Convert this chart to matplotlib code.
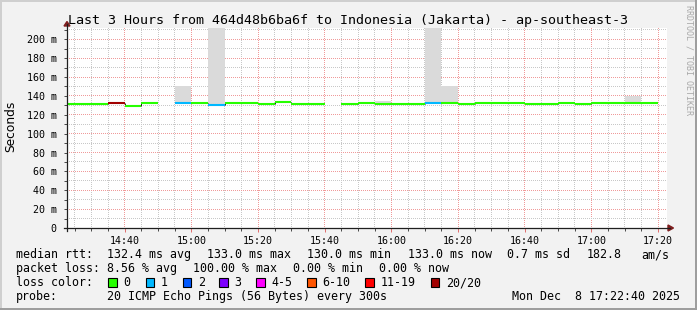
import numpy as np
import matplotlib
matplotlib.use("Agg")
import matplotlib.pyplot as plt
from matplotlib.colors import to_rgba
from matplotlib.patches import Rectangle, Polygon
from matplotlib.lines import Line2D

# ---- data (5 minute bins, start time of each bin) ----
bin_start = ["14:20", "14:25", "14:30", "14:35", "14:40", "14:45", "14:50", "14:55",
             "15:00", "15:05", "15:10", "15:15", "15:20", "15:25", "15:30", "15:35",
             "15:40", "15:45", "15:50", "15:55", "16:00", "16:05", "16:10", "16:15",
             "16:20", "16:25", "16:30", "16:35", "16:40", "16:45", "16:50", "16:55",
             "17:00", "17:05", "17:10", "17:15"]
median_ms = [131.5, 131.5, 131.5, 132.0, 129.3, 133.0, None, 133.0,
             133.0, 130.7, 133.0, 133.0, 131.7, 133.2, 131.8, 131.8,
             None, 131.4, 132.8, 131.0, 131.8, 131.8, 132.8, 133.0,
             131.8, 133.0, 133.0, 133.0, 131.8, 131.8, 133.0, 131.8,
             133.0, 133.0, 133.0, 133.0]
loss_class = ["0", "0", "0", "20/20", "0", "0", None, "1",
              "0", "1", "0", "0", "0", "0", "0", "0",
              None, "0", "0", "0", "0", "0", "1", "0",
              "0", "0", "0", "0", "0", "0", "0", "0",
              "0", "0", "0", "0"]
# top of the smoke (max ping) where it shows above the median line
smoke_max = [None, None, None, None, None, None, None, 150.5,
             None, 250.0, None, None, None, None, None, None,
             None, None, None, 135.0, None, None, 250.0, 150.5,
             None, None, None, None, None, None, None, None,
             None, None, 139.6, None]

loss_labels = ["0", "1", "2", "3", "4-5", "6-10", "11-19", "20/20"]
loss_colors = ["#26ff00", "#00b8ff", "#0059ff", "#7e00ff", "#ff00ff", "#ff5500", "#ff0000", "#a10000"]
loss_color_map = dict(zip(loss_labels, loss_colors))

x_tick_labels = ["14:40", "15:00", "15:20", "15:40", "16:00", "16:20", "16:40", "17:00", "17:20"]
y_ticks = [0, 20, 40, 60, 80, 100, 120, 140, 160, 180, 200]

title = "Last 3 Hours from 464d48b6ba6f to Indonesia (Jakarta) - ap-southeast-3"

# ---- style ----
W, H = 697, 310
BACK = "#f2f2f2"
SHADEA = "#cfcfcf"
SHADEB = "#9e9e9e"
GRID = "#c8c8c8"
MGRID = "#f09a9a"
ARROW = "#801f1f"
AXIS = "#1f1f1f"
SMOKE = "#dadada"
MONO = "DejaVu Sans Mono"


def hm(s):
    h, m = s.split(":")
    return int(h) * 60 + int(m)


def px(x, y):
    return x / W, 1 - y / H


fig = plt.figure(figsize=(W / 100, H / 100), dpi=100, facecolor=BACK)
ax = fig.add_axes([67 / W, 1 - 228 / H, 600 / W, 200 / H])
ax.set_facecolor("white")

xmin, xmax = hm("14:22") + 40 / 60, hm("17:22") + 40 / 60
ymax = 212
ax.set_xlim(xmin, xmax)
ax.set_ylim(0, ymax)

x_major = [hm(s) for s in x_tick_labels]
x_minor = [hm(s) for s in bin_start[1:]] + [hm("17:20")]
x_minor = [x for x in x_minor if x not in x_major]
y_minor = [v for v in range(10, 211, 10) if v not in y_ticks]

# dotted grid as a pixel image so the dots stay crisp (1 px on, 1 px off)
bb = ax.bbox
gw, gh = int(round(bb.width)), int(round(bb.height))
grid = np.zeros((gh, gw, 4))


def col_of(x):
    return int(np.clip(round(ax.transData.transform((x, 0))[0] - bb.x0 - 0.5), 0, gw - 1))


def row_of(y):
    return int(np.clip(round(bb.y1 - ax.transData.transform((0, y))[1] - 0.5), 0, gh - 1))


for xs, c in ((x_minor, GRID), (x_major, MGRID)):
    for x in xs:
        grid[::2, col_of(x)] = to_rgba(c)
for ys, c in ((y_minor, GRID), (y_ticks[1:], MGRID)):
    for y in ys:
        grid[row_of(y), ::2] = to_rgba(c)
ax.imshow(grid, extent=(xmin, xmax, 0, ymax), aspect="auto", interpolation="nearest", zorder=1)

# smoke + median line
for i, (t, v, c, s) in enumerate(zip(bin_start, median_ms, loss_class, smoke_max)):
    if v is None:
        continue
    t0 = hm(t)
    if s is not None:
        ax.bar(t0, s - v, bottom=v, width=5, align="edge", color=SMOKE, lw=0, zorder=2)
    ax.hlines(v, t0, t0 + 5, colors=loss_color_map[c], lw=1.5, capstyle="butt", zorder=4)
    if i + 1 < len(median_ms) and median_ms[i + 1] is not None and median_ms[i + 1] != v:
        ax.vlines(t0 + 5, v, median_ms[i + 1], colors="#202020", lw=0.7, zorder=3)

# ticks
ax.set_xticks(x_major)
ax.set_xticklabels(x_tick_labels)
ax.set_xticks(x_minor, minor=True)
ax.set_yticks(y_ticks)
ax.set_yticklabels(["0"] + [f"{v} m" for v in y_ticks[1:]])
ax.set_yticks(range(0, 211, 10), minor=True)
ax.set_xlim(xmin, xmax)
ax.set_ylim(0, ymax)
for sp in ax.spines.values():
    sp.set_visible(False)
ax.tick_params(axis="both", which="both", labelsize=7.2, width=0.72)
ax.tick_params(axis="x", which="major", length=3, color="#e07070", pad=3)
ax.tick_params(axis="x", which="minor", length=2, color=(0.3, 0.3, 0.3))
ax.tick_params(axis="y", which="both", length=2, color=(0.3, 0.3, 0.3), pad=5.5)
for lab in ax.get_xticklabels() + ax.get_yticklabels():
    lab.set_family(MONO)

# axis lines with arrows
fig.add_artist(Line2D([64 / W, 670 / W], [1 - 228 / H] * 2, color=AXIS, lw=0.9))
fig.add_artist(Line2D([67 / W] * 2, [1 - 231 / H, 1 - 24 / H], color=AXIS, lw=0.9))
fig.add_artist(Polygon([px(668, 225), px(668, 231), px(673.5, 228)], closed=True,
                       color=ARROW, transform=fig.transFigure))
fig.add_artist(Polygon([px(64, 26), px(70, 26), px(67, 21.5)], closed=True,
                       color=ARROW, transform=fig.transFigure))

# border shading
fig.add_artist(Rectangle((0, 1 - 2 / H), 1, 2 / H, color=SHADEA, transform=fig.transFigure, lw=0))
fig.add_artist(Rectangle((0, 0), 2 / W, 1, color=SHADEA, transform=fig.transFigure, lw=0))
fig.add_artist(Rectangle((0, 0), 1, 2.5 / H, color=SHADEB, transform=fig.transFigure, lw=0))
fig.add_artist(Rectangle((1 - 2.5 / W, 0), 2.5 / W, 1, color=SHADEB, transform=fig.transFigure, lw=0))

# texts
fig.text(*px(348, 24), title, ha="center", va="baseline", family=MONO, size=9.6)
fig.text(*px(10.5, 126), "Seconds", rotation=90, ha="center", va="center",
         family="DejaVu Sans", size=8.8)
fig.text(*px(688.5, 60), "RRDTOOL / TOBI OETIKER", rotation=270, ha="center",
         va="center", family=MONO, size=6, color="#a8a8a8")

LS = 8.4
line1 = [(16, "median rtt:"), (107.3, "132.4 ms avg"), (207.3, "133.0 ms max"),
         (307.3, "130.0 ms min"), (407.7, "133.0 ms now"), (506.7, "0.7 ms sd"),
         (586.7, "182.8"), (641.7, "am/s")]
line2 = [(16, "packet loss:"), (107.3, "8.56 % avg"), (193.3, "100.00 % max"),
         (292.7, "0.00 % min"), (379.3, "0.00 % now")]
for x, s in line1:
    fig.text(*px(x, 258.3), s, va="baseline", family=MONO, size=LS)
for x, s in line2:
    fig.text(*px(x, 272), s, va="baseline", family=MONO, size=LS)

fig.text(*px(16, 286), "loss color:", va="baseline", family=MONO, size=LS)
box_x = [108.3, 145.7, 182.7, 219.3, 256, 307.3, 365.3, 430.7]
for bx, lab, col in zip(box_x, loss_labels, loss_colors):
    fig.add_artist(Rectangle(px(bx, 286.7), 8.5 / W, 8.5 / H, facecolor=col,
                             edgecolor="black", lw=0.8, transform=fig.transFigure))
    fig.text(*px(bx + 15, 286), lab, va="baseline", family=MONO, size=LS)

fig.text(*px(16, 299.7), "probe:", va="baseline", family=MONO, size=LS)
fig.text(*px(107.3, 299.7), "20 ICMP Echo Pings (56 Bytes) every 300s", va="baseline",
         family=MONO, size=LS)
fig.text(*px(680, 299.7), "Mon Dec  8 17:22:40 2025", ha="right", va="baseline",
         family=MONO, size=LS)

fig.savefig("out.png", dpi=100, facecolor=BACK)
